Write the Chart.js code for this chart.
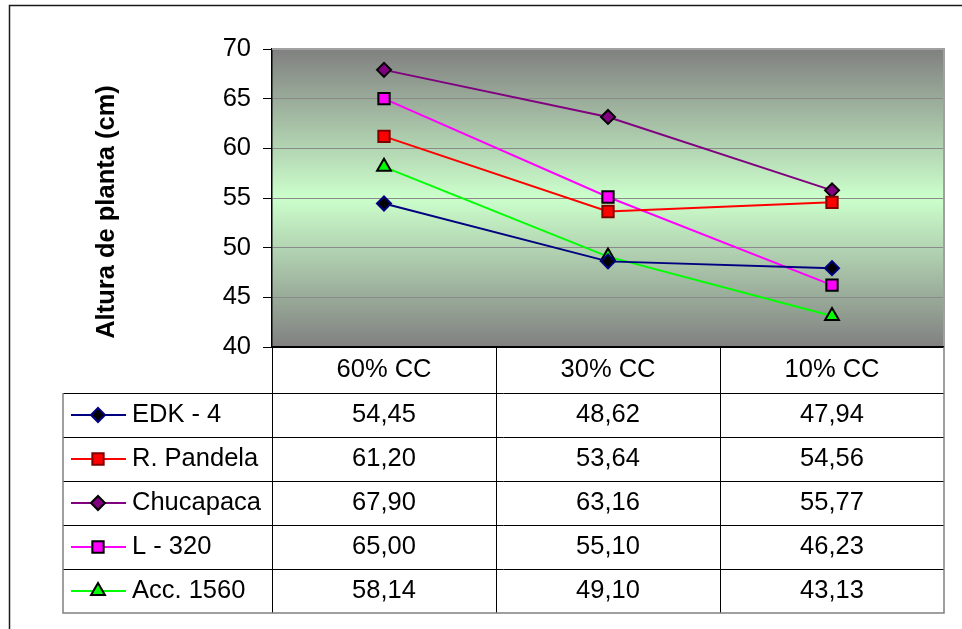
<!DOCTYPE html>
<html>
<head>
<meta charset="utf-8">
<title>Altura de planta</title>
<script src="https://cdn.jsdelivr.net/npm/chart.js@4.4.1/dist/chart.umd.min.js"></script>
<style>
  html, body { margin: 0; padding: 0; background: #fff; }
  #wrap { width: 962px; height: 629px; position: relative; }
</style>
</head>
<body>
<div id="wrap"><canvas id="chart" width="962" height="629"></canvas></div>
<script>
const categories = ["60% CC", "30% CC", "10% CC"];
const yTicks = [40, 45, 50, 55, 60, 65, 70];
const axisTitle = "Altura de planta (cm)";

const seriesNames = ["EDK - 4", "R. Pandela", "Chucapaca", "L - 320", "Acc. 1560"];
const edk4 = [54.45, 48.62, 47.94];
const rPandela = [61.20, 53.64, 54.56];
const chucapaca = [67.90, 63.16, 55.77];
const l320 = [65.00, 55.10, 46.23];
const acc1560 = [58.14, 49.10, 43.13];

const FONT = '"Liberation Sans", Arial, sans-serif';

const mkSeries = (label, data, line, fill, edge, style, radius) => ({
  label,
  data,
  borderColor: line,
  backgroundColor: line,
  borderWidth: 2,
  tension: 0,
  pointStyle: style,
  pointRadius: radius,
  pointHoverRadius: radius,
  pointBackgroundColor: fill,
  pointBorderColor: edge,
  pointBorderWidth: 2
});

const datasets = [
  mkSeries(seriesNames[0], edk4, "#000080", "#000000", "#000080", "rectRot", 7),
  mkSeries(seriesNames[1], rPandela, "#ff0000", "#ff0000", "#800000", "rect", 8),
  mkSeries(seriesNames[2], chucapaca, "#800080", "#800080", "#000000", "rectRot", 7),
  mkSeries(seriesNames[3], l320, "#ff00ff", "#ff00ff", "#000000", "rect", 8),
  mkSeries(seriesNames[4], acc1560, "#00ff00", "#00ff00", "#000000", "triangle", 8)
];

const fmt = (v) => v.toFixed(2).replace(".", ",");

// gray - light green - gray band behind the plot
const plotBackground = {
  id: "plotBackground",
  beforeDraw(chart) {
    const { ctx, chartArea: a } = chart;
    const g = ctx.createLinearGradient(0, a.top, 0, a.bottom);
    g.addColorStop(0, "#808080");
    g.addColorStop(0.5, "#ccffcc");
    g.addColorStop(1, "#808080");
    ctx.save();
    ctx.fillStyle = g;
    ctx.fillRect(a.left, a.top, a.right - a.left, a.bottom - a.top);
    ctx.restore();
  }
};

// data table under the plot, outer frame and the rotated axis title
const dataTable = {
  id: "dataTable",
  afterDraw(chart) {
    const { ctx, chartArea: a } = chart;
    const x = chart.scales.x;
    const step = (a.right - a.left) / categories.length;
    const headH = 46;
    const rowH = 44;
    const tableLeft = 63;
    const top = a.bottom;
    const bodyTop = top + headH;
    const bottom = bodyTop + rowH * datasets.length;

    ctx.save();

    // plot border on top and right
    ctx.strokeStyle = "#a0a0a0";
    ctx.lineWidth = 2;
    ctx.beginPath();
    ctx.moveTo(a.left, a.top);
    ctx.lineTo(a.right, a.top);
    ctx.lineTo(a.right, a.bottom);
    ctx.stroke();

    // inner table lines
    ctx.strokeStyle = "#000";
    ctx.lineWidth = 1;
    ctx.beginPath();
    for (let c = 0; c < categories.length; c += 1) {
      const cx = Math.round(a.left + step * c) + 0.5;
      ctx.moveTo(cx, top);
      ctx.lineTo(cx, bottom);
    }
    for (let r = 0; r < datasets.length; r += 1) {
      const ry = Math.round(bodyTop + rowH * r) + 0.5;
      ctx.moveTo(tableLeft, ry);
      ctx.lineTo(a.right, ry);
    }
    ctx.stroke();

    ctx.lineWidth = 2;
    ctx.beginPath();
    ctx.moveTo(a.left - 1, top);
    ctx.lineTo(a.right, top);
    ctx.stroke();

    // outer table border
    ctx.strokeStyle = "#808080";
    ctx.lineWidth = 1.5;
    ctx.beginPath();
    ctx.moveTo(tableLeft, bodyTop);
    ctx.lineTo(tableLeft, bottom);
    ctx.lineTo(a.right, bottom);
    ctx.lineTo(a.right, top);
    ctx.stroke();

    // header labels
    ctx.fillStyle = "#000";
    ctx.font = "25.5px " + FONT;
    ctx.textAlign = "center";
    ctx.textBaseline = "middle";
    categories.forEach((cat, i) => {
      ctx.fillText(cat, x.getPixelForValue(i), top + headH / 2);
    });

    // rows: legend key, name, values
    datasets.forEach((ds, r) => {
      const cy = bodyTop + rowH * r + rowH / 2;
      ctx.strokeStyle = ds.borderColor;
      ctx.lineWidth = 2;
      ctx.beginPath();
      ctx.moveTo(71, cy);
      ctx.lineTo(126, cy);
      ctx.stroke();
      ctx.fillStyle = ds.pointBackgroundColor;
      ctx.strokeStyle = ds.pointBorderColor;
      ctx.lineWidth = ds.pointBorderWidth;
      Chart.helpers.drawPoint(ctx, {
        pointStyle: ds.pointStyle,
        radius: ds.pointRadius,
        rotation: 0,
        borderWidth: ds.pointBorderWidth
      }, 98, cy);

      ctx.fillStyle = "#000";
      ctx.textAlign = "left";
      ctx.fillText(ds.label, 132, cy);
      ctx.textAlign = "center";
      ds.data.forEach((v, i) => {
        ctx.fillText(fmt(v), x.getPixelForValue(i), cy);
      });
    });

    // axis title
    ctx.font = "bold 25.5px " + FONT;
    ctx.translate(107, 212);
    ctx.rotate(-Math.PI / 2);
    ctx.fillText(axisTitle, 0, 0);
    ctx.setTransform(1, 0, 0, 1, 0, 0);

    // chart frame
    ctx.strokeStyle = "#1a1a1a";
    ctx.lineWidth = 1.5;
    ctx.beginPath();
    ctx.moveTo(9.5, 629);
    ctx.lineTo(9.5, 5.5);
    ctx.lineTo(962, 5.5);
    ctx.stroke();

    ctx.restore();
  }
};

new Chart(document.getElementById("chart"), {
  type: "line",
  data: { labels: categories, datasets },
  options: {
    responsive: false,
    animation: false,
    events: [],
    layout: { padding: { left: 0, top: 49, right: 18, bottom: 282 } },
    plugins: { legend: { display: false }, tooltip: { enabled: false } },
    scales: {
      x: {
        type: "category",
        offset: true,
        display: false
      },
      y: {
        min: yTicks[0],
        max: yTicks[yTicks.length - 1],
        afterFit(scale) { scale.width = 272; },
        afterBuildTicks(scale) { scale.ticks = yTicks.map((v) => ({ value: v })); },
        ticks: {
          color: "#000",
          font: { family: FONT, size: 25.5 },
          padding: 12
        },
        grid: {
          color: "#8a8a8a",
          lineWidth: 1,
          drawTicks: true,
          tickLength: 9,
          tickColor: "#000"
        },
        border: { display: true, color: "#000", width: 1.5 }
      }
    }
  },
  plugins: [plotBackground, dataTable]
});
</script>
</body>
</html>
